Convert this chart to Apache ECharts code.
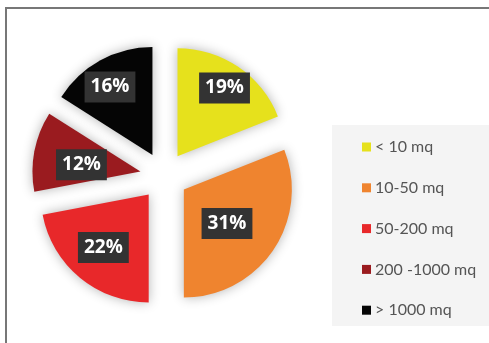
<!DOCTYPE html>
<html>
<head>
<meta charset="utf-8">
<script src="https://cdn.jsdelivr.net/npm/echarts@6/dist/echarts.min.js"></script>
<style>
html,body{margin:0;padding:0;background:#fff;}
#main{width:489px;height:343px;}
</style>
</head>
<body>
<div id="main"></div>
<script>
var categories = ['< 10 mq', '10-50 mq', '50-200 mq', '200 -1000 mq', '> 1000 mq'];
var values = [19, 31, 22, 12, 16];
var colors = ['#e6e11c', '#ef842f', '#e8282a', '#9a1b1f', '#050505'];
// label nudges (style only)
var labelNudge = [[15, -21], [-4, 2], [-9, 9], [-3, 4], [-15, -18]];

var chart = echarts.init(document.getElementById('main'), null, {renderer: 'canvas'});
var data = categories.map(function (c, i) {
  return { name: c, value: values[i], selected: true, itemStyle: { color: colors[i] } };
});
chart.setOption({
  animation: false,
  backgroundColor: '#ffffff',
  graphic: [
    { type: 'rect', shape: { x: 332, y: 125, width: 160, height: 201 }, style: { fill: '#f4f4f4' }, z: -1 },
    { type: 'line', shape: { x1: 6, y1: 7, x2: 6, y2: 343 }, style: { stroke: '#777', lineWidth: 2 } },
    { type: 'line', shape: { x1: 5, y1: 8, x2: 489, y2: 8 }, style: { stroke: '#777', lineWidth: 2 } }
  ],
  legend: {
    orient: 'vertical',
    left: 357,
    top: 134,
    itemWidth: 9,
    itemHeight: 9,
    itemGap: 24.8,
    icon: 'rect',
    selectedMode: false,
    textStyle: { fontSize: 16, color: '#555', fontFamily: 'Lato', padding: [0, 0, 0, -1] },
    data: categories
  },
  series: [{
    type: 'pie',
    center: [164, 176],
    radius: [0, 108],
    startAngle: 90,
    clockwise: true,
    selectedMode: 'multiple',
    selectedOffset: 24,
    avoidLabelOverlap: false,
    emphasis: { disabled: true },
    select: { itemStyle: { shadowBlur: 12, shadowColor: 'rgba(0,0,0,0.3)' } },
    itemStyle: { shadowBlur: 12, shadowColor: 'rgba(0,0,0,0.3)' },
    label: {
      position: 'inside',
      formatter: '{c}%',
      color: '#ffffff',
      fontSize: 19,
      fontWeight: 'bold',
      fontFamily: 'Open Sans',
      backgroundColor: '#333333',
      padding: [7, 6, 5, 6]
    },
    labelLayout: function (p) {
      var n = labelNudge[p.dataIndex];
      return { dx: n[0], dy: n[1] };
    },
    labelLine: { show: false },
    data: data
  }]
});
</script>
</body>
</html>
